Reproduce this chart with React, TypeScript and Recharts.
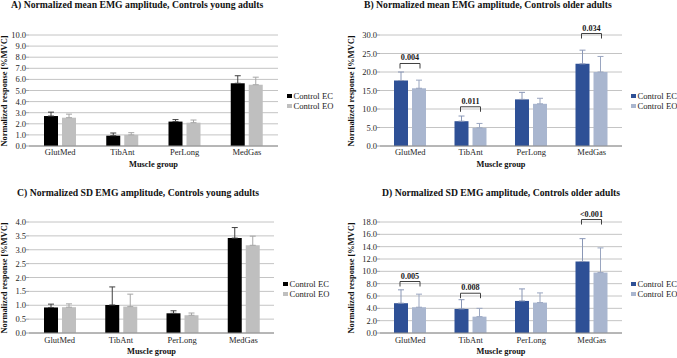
import React from 'react';
import { BarChart, Bar, XAxis, YAxis, CartesianGrid, ErrorBar, Rectangle } from 'recharts';

const categories = ['GlutMed', 'TibAnt', 'PerLong', 'MedGas'];

// Panel A: mean, young
const aEC = [2.7, 0.93, 2.2, 5.65];
const aECErr = [0.35, 0.24, 0.18, 0.68];
const aEO = [2.55, 1.0, 2.1, 5.52];
const aEOErr = [0.32, 0.2, 0.24, 0.68];
const aTicks = [0, 1, 2, 3, 4, 5, 6, 7, 8, 9, 10];

// Panel B: mean, older
const bEC = [17.7, 6.7, 12.6, 22.2];
const bECErr = [2.3, 1.4, 1.9, 3.7];
const bEO = [15.6, 4.9, 11.4, 20.0];
const bEOErr = [2.2, 1.2, 1.5, 4.2];
const bBracket = [22.3, 10.6, null, 30.4];
const bP = ['0.004', '0.011', null, '0.034'];
const bTicks = [0, 5, 10, 15, 20, 25, 30];

// Panel C: SD, young
const cEC = [0.92, 1.01, 0.71, 3.42];
const cECErr = [0.12, 0.65, 0.09, 0.38];
const cEO = [0.93, 0.95, 0.64, 3.16];
const cEOErr = [0.12, 0.45, 0.08, 0.33];
const cTicks = [0, 0.5, 1, 1.5, 2, 2.5, 3, 3.5, 4];

// Panel D: SD, older
const dEC = [4.83, 3.9, 5.2, 11.6];
const dECErr = [2.17, 1.5, 1.95, 3.7];
const dEO = [4.18, 2.65, 4.93, 9.8];
const dEOErr = [2.12, 1.35, 1.57, 4.0];
const dBracket = [8.35, 6.45, null, 18.4];
const dP = ['0.005', '0.008', null, '<0.001'];
const dTicks = [0, 2, 4, 6, 8, 10, 12, 14, 16, 18];

const seriesNames = ['Control EC', 'Control EO'];
const titles = [
  'A) Normalized mean EMG amplitude, Controls young adults',
  'B) Normalized mean EMG amplitude, Controls older adults',
  'C) Normalized SD EMG amplitude, Controls young adults',
  'D) Normalized SD EMG amplitude, Controls older adults',
];
const xTitle = 'Muscle group';
const yTitle = 'Normalized response [%MVC]';

const SERIF = '"Liberation Serif", "Times New Roman", serif';
const BAR_GAP = 4;
const BAR_SIZE = 14;

function buildData(ec: number[], ecErr: number[], eo: number[], eoErr: number[], br?: (number | null)[], p?: (string | null)[]) {
  return categories.map((c, i) => ({
    cat: c,
    ec: ec[i],
    ecErr: [0, ecErr[i]],
    eo: eo[i],
    eoErr: [0, eoErr[i]],
    bracket: br ? br[i] : null,
    p: p ? p[i] : null,
  }));
}

const BracketShape = (props: any) => {
  const { x, y, width, height, fill, payload } = props;
  const rect = <Rectangle x={x} y={y} width={width} height={height} fill={fill} />;
  if (!payload || payload.bracket == null || !payload.ec) return rect;
  const pxPerUnit = height / payload.ec;
  const base = y + height;
  const yb = base - payload.bracket * pxPerUnit;
  const x1 = x + width / 2 - 1;
  const x2 = x + width + BAR_GAP + width / 2 + 1;
  return (
    <g>
      {rect}
      <path d={`M${x1},${yb + 5}V${yb}H${x2}V${yb + 5}`} stroke="#404040" strokeWidth={1} fill="none" />
      <text x={(x1 + x2) / 2} y={yb - 3} textAnchor="middle" fontFamily={SERIF} fontWeight="bold" fontSize={8.2} fill="#1a1a1a" style={{ fill: '#1a1a1a' }}>
        {payload.p}
      </text>
    </g>
  );
};

type PanelProps = {
  left: number; top: number; width: number; height: number;
  yAxisWidth: number; marginTop: number; marginRight: number; xAxisHeight: number;
  data: any[]; ticks: number[]; max: number;
  colors: [string, string]; errColors: [string, string];
  title: string; titleX: number; titleY: number;
  yLabelX: number; xLabelY: number; legendY: number;
  tickMargin: number;
};

const Panel = (p: PanelProps) => {
  const plotLeft = p.yAxisWidth;
  const plotRight = p.width - p.marginRight;
  const plotTop = p.marginTop;
  const plotBottom = p.height - p.xAxisHeight;
  const tickStyle = { fontSize: 8.5, fontFamily: SERIF, fill: '#262626' };
  return (
    <div style={{ position: 'absolute', left: p.left, top: p.top, width: p.width, height: p.height }}>
      <BarChart
        width={p.width}
        height={p.height}
        data={p.data}
        margin={{ top: p.marginTop, right: p.marginRight, left: 0, bottom: 0 }}
        barGap={BAR_GAP}
        barSize={BAR_SIZE}
      >
        <CartesianGrid vertical={false} stroke="#c4c4c4" strokeWidth={1} />
        <XAxis
          dataKey="cat"
          interval={0}
          height={p.xAxisHeight}
          tickLine={false}
          tickSize={3}
          tickMargin={p.tickMargin}
          axisLine={{ stroke: '#8c8c8c' }}
          tick={tickStyle}
        />
        <YAxis
          width={p.yAxisWidth}
          domain={[0, p.max]}
          ticks={p.ticks}
          interval={0}
          axisLine={false}
          tickLine={{ stroke: '#a6a6a6' }}
          tickSize={3}
          tickMargin={0}
          tick={tickStyle}
          tickFormatter={(v: number) => v.toFixed(1)}
        />
        <Bar dataKey="ec" fill={p.colors[0]} isAnimationActive={false} shape={BracketShape}>
          <ErrorBar dataKey="ecErr" width={3} stroke={p.errColors[0]} strokeWidth={1} direction="y" />
        </Bar>
        <Bar dataKey="eo" fill={p.colors[1]} isAnimationActive={false}>
          <ErrorBar dataKey="eoErr" width={3} stroke={p.errColors[1]} strokeWidth={1} direction="y" />
        </Bar>
      </BarChart>
      <div style={{ position: 'absolute', left: p.titleX, top: p.titleY, fontFamily: SERIF, fontWeight: 'bold', fontSize: 9.7, color: '#111', whiteSpace: 'nowrap', lineHeight: '12px' }}>
        {p.title}
      </div>
      <div style={{ position: 'absolute', left: p.yLabelX, top: (plotTop + plotBottom) / 2, transform: 'translate(-50%, -50%) rotate(-90deg)', fontFamily: SERIF, fontWeight: 'bold', fontSize: 8.4, color: '#111', whiteSpace: 'nowrap', lineHeight: '10px' }}>
        {yTitle}
      </div>
      <div style={{ position: 'absolute', left: (plotLeft + plotRight) / 2, top: p.xLabelY, transform: 'translate(-50%, -50%)', fontFamily: SERIF, fontWeight: 'bold', fontSize: 8.4, color: '#111', whiteSpace: 'nowrap', lineHeight: '10px' }}>
        {xTitle}
      </div>
      <div style={{ position: 'absolute', left: plotRight + 9, top: p.legendY, fontFamily: SERIF, fontSize: 8.6, color: '#222', lineHeight: '10px' }}>
        {seriesNames.map((n, i) => (
          <div key={n} style={{ display: 'flex', alignItems: 'center', whiteSpace: 'nowrap' }}>
            <span style={{ display: 'inline-block', width: 4.5, height: 4.5, background: p.colors[i], marginRight: 2 }} />
            {n}
          </div>
        ))}
      </div>
    </div>
  );
};

export default function App() {
  const dataA = buildData(aEC, aECErr, aEO, aEOErr);
  const dataB = buildData(bEC, bECErr, bEO, bEOErr, bBracket, bP);
  const dataC = buildData(cEC, cECErr, cEO, cEOErr);
  const dataD = buildData(dEC, dECErr, dEO, dEOErr, dBracket, dP);
  const young: [string, string] = ['#000000', '#bfbfbf'];
  const youngErr: [string, string] = ['#404040', '#a6a6a6'];
  const older: [string, string] = ['#2e5096', '#a9b6cf'];
  const olderErr: [string, string] = ['#8a97b6', '#9aa6c0'];
  return (
    <div style={{ position: 'absolute', left: 0, top: 0, width: 677, height: 358, background: '#fff', overflow: 'hidden' }}>
      <Panel left={0} top={0} width={300} height={175} yAxisWidth={29} marginTop={35} marginRight={22} xAxisHeight={29}
        data={dataA} ticks={aTicks} max={10} colors={young} errColors={youngErr}
        title={titles[0]} titleX={11} titleY={-1} yLabelX={5} xLabelY={165} legendY={91} tickMargin={0} />
      <Panel left={337} top={0} width={340} height={175} yAxisWidth={43} marginTop={35} marginRight={55} xAxisHeight={29}
        data={dataB} ticks={bTicks} max={30} colors={older} errColors={olderErr}
        title={titles[1]} titleX={27} titleY={-1} yLabelX={15} xLabelY={165} legendY={91} tickMargin={0} />
      <Panel left={0} top={178} width={300} height={180} yAxisWidth={29} marginTop={44} marginRight={26} xAxisHeight={25}
        data={dataC} ticks={cTicks} max={4} colors={young} errColors={youngErr}
        title={titles[2]} titleX={17} titleY={9} yLabelX={5} xLabelY={174} legendY={101} tickMargin={1} />
      <Panel left={337} top={178} width={340} height={180} yAxisWidth={43} marginTop={44} marginRight={55} xAxisHeight={25}
        data={dataD} ticks={dTicks} max={18} colors={older} errColors={olderErr}
        title={titles[3]} titleX={45} titleY={9} yLabelX={15} xLabelY={174} legendY={101} tickMargin={1} />
    </div>
  );
}
